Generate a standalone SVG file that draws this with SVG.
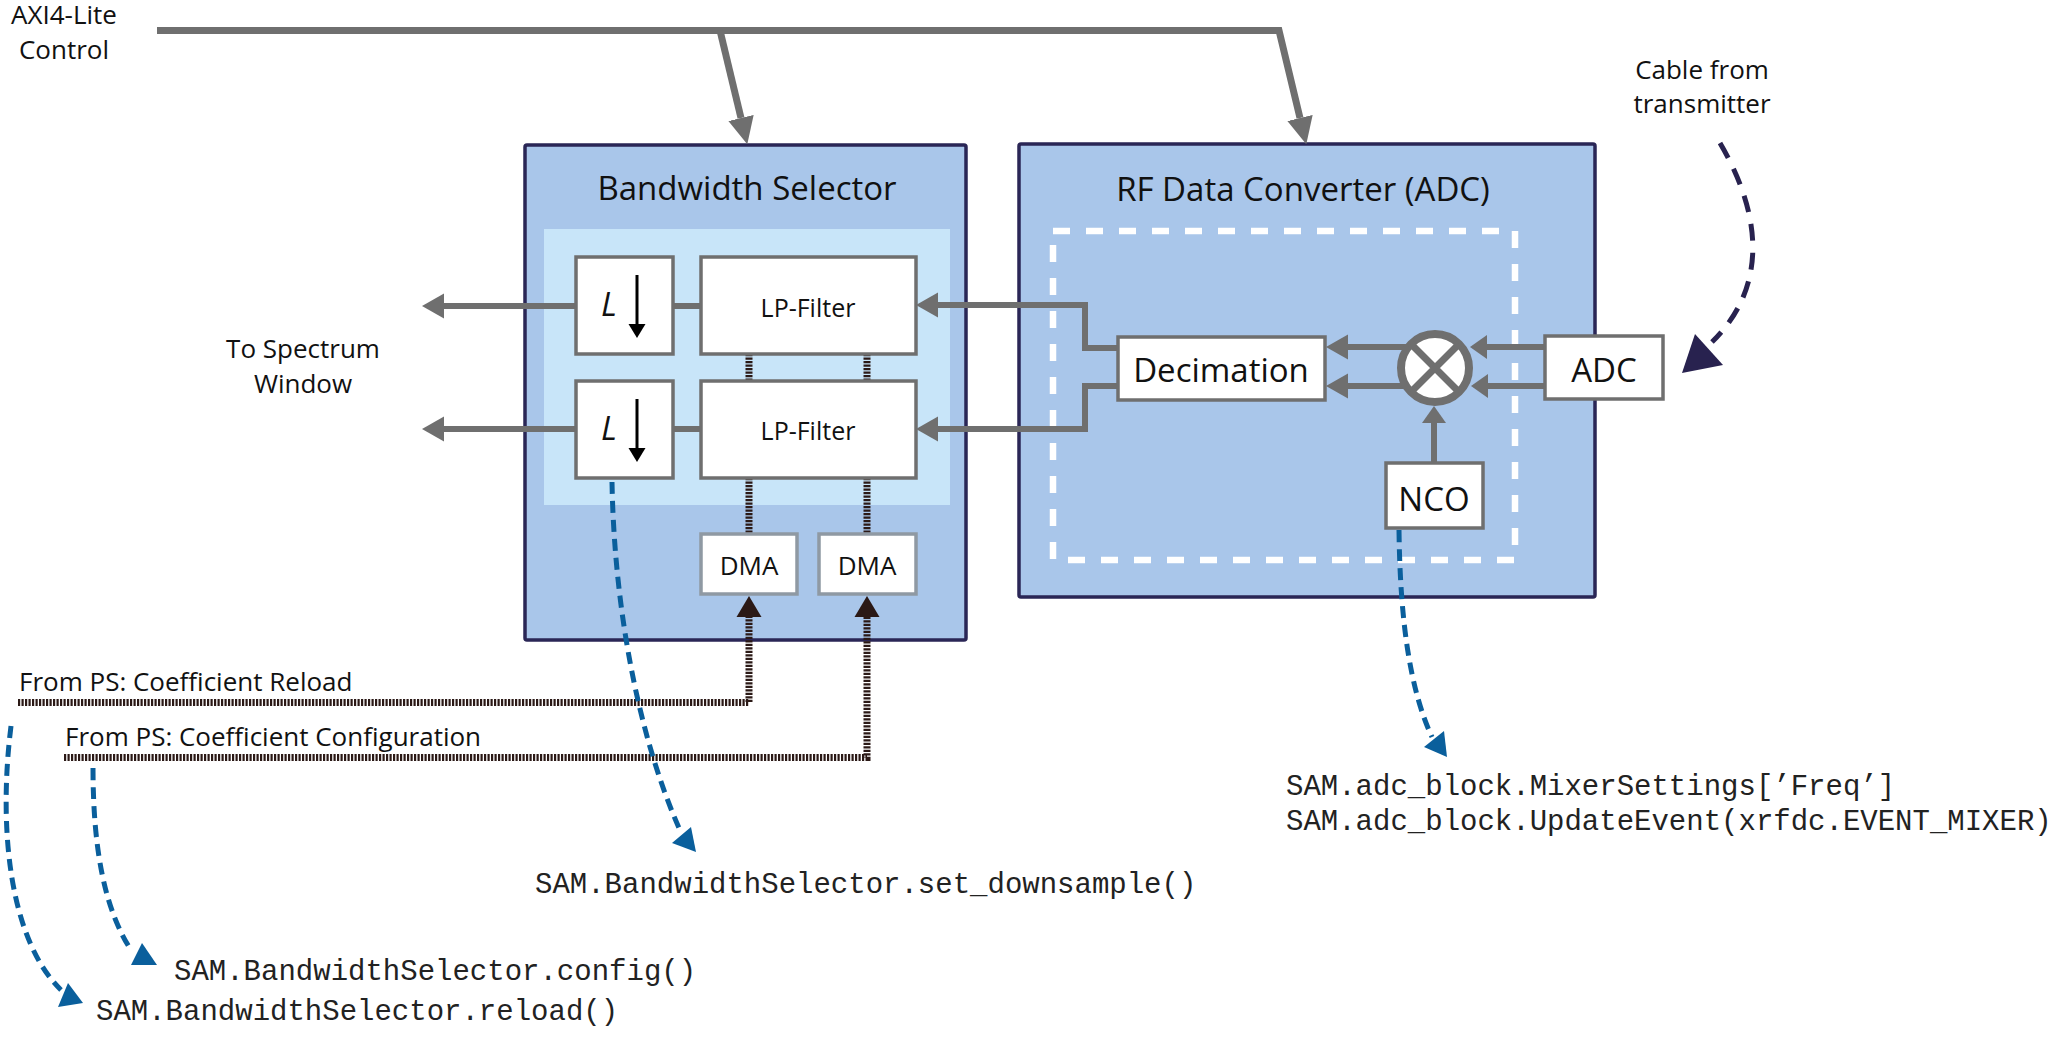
<svg xmlns="http://www.w3.org/2000/svg" width="2054" height="1041" viewBox="0 0 2054 1041">
<style>
  .lbl { font-family: "Open Sans", "Liberation Sans", sans-serif; fill: #111; }
  .mono { font-family: "Liberation Mono", "Courier New", monospace; font-size: 29px; fill: #222; }
  .box { fill: #fff; stroke: #6f6f6f; stroke-width: 3.5; }
  .dma { fill: #fff; stroke: #8f99a3; stroke-width: 3.5; }
  .cont { fill: #a9c6ea; stroke: #2a2656; stroke-width: 3.5; }
  .gray { fill: none; stroke: #6f6f6f; stroke-width: 6; stroke-linejoin: miter; }
  .axi { fill: none; stroke: #6f6f6f; stroke-width: 7; stroke-linejoin: miter; }
  .hatch { fill: none; stroke: #2b1916; stroke-width: 7; stroke-dasharray: 2.2 1.3; }
  .hatchs { fill: none; stroke: #2b1916; stroke-width: 7; stroke-dasharray: 2.2 1.3; }
  .blue { fill: none; stroke: #0a5f9c; stroke-width: 5; stroke-dasharray: 12 7; }
  .bluehead { fill: #0a5f9c; }
  .navy { fill: none; stroke: #28224f; stroke-width: 5; stroke-dasharray: 17 12; }
</style>
<defs>
  <marker id="arrG" markerUnits="userSpaceOnUse" viewBox="0 -13 22 26" markerWidth="22" markerHeight="26" refX="0" refY="0" orient="auto">
    <path d="M0,-12.5 L22,0 L0,12.5 Z" fill="#6f6f6f"/>
  </marker>
  <marker id="arrAXI" markerUnits="userSpaceOnUse" viewBox="0 -13 27 26" markerWidth="27" markerHeight="26" refX="0" refY="0" orient="auto">
    <path d="M0,-13 L27,0 L0,13 Z" fill="#6f6f6f"/>
  </marker>
  <marker id="arrS" markerUnits="userSpaceOnUse" viewBox="0 -12 17 24" markerWidth="17" markerHeight="24" refX="0" refY="0" orient="auto">
    <path d="M0,-12 L17,0 L0,12 Z" fill="#6f6f6f"/>
  </marker>
  <marker id="arrD" markerUnits="userSpaceOnUse" viewBox="0 -13 21 26" markerWidth="21" markerHeight="26" refX="0" refY="0" orient="auto">
    <path d="M0,-12.5 L21,0 L0,12.5 Z" fill="#2b1916"/>
  </marker>
  <marker id="arrK" markerUnits="userSpaceOnUse" viewBox="0 -9 14 18" markerWidth="14" markerHeight="18" refX="0" refY="0" orient="auto">
    <path d="M0,-8.5 L14,0 L0,8.5 Z" fill="#000"/>
  </marker>
</defs>

<rect width="2054" height="1041" fill="#fff"/>

<!-- Containers -->
<g id="bandwidth-selector">
  <rect class="cont" x="525" y="145" width="441" height="495" rx="2"/>
  <rect x="544" y="229" width="406" height="276" fill="#c8e5f9"/>
  <text class="lbl" x="747" y="200" font-size="33" text-anchor="middle">Bandwidth Selector</text>
</g>
<g id="rf-data-converter">
  <rect class="cont" x="1019" y="144" width="576" height="453" rx="2"/>
  <rect x="1053" y="231" width="462" height="329" fill="none" stroke="#fff" stroke-width="6.5" stroke-dasharray="17 16"/>
  <text class="lbl" x="1303" y="201" font-size="33" text-anchor="middle">RF Data Converter (ADC)</text>
</g>

<!-- Connectors -->
<g id="connectors">
  <!-- AXI4-Lite bus -->
  <path class="axi" d="M157,30.5 H1279 L1300,118" marker-end="url(#arrAXI)"/>
  <path class="axi" d="M720,30.5 L741,118" marker-end="url(#arrAXI)"/>
  <!-- outputs to spectrum window -->
  <path class="gray" d="M576,306 H444" marker-end="url(#arrG)"/>
  <path class="gray" d="M576,429 H444" marker-end="url(#arrG)"/>
  <!-- L to LP -->
  <path class="gray" d="M673,306 H701"/>
  <path class="gray" d="M673,429 H701"/>
  <!-- Decimation to LP filters -->
  <path class="gray" d="M1118,348 H1085 V305 H938" marker-end="url(#arrG)"/>
  <path class="gray" d="M1118,386 H1085 V429 H938" marker-end="url(#arrG)"/>
  <!-- mixer to decimation -->
  <path class="gray" d="M1410,347 H1348" marker-end="url(#arrG)"/>
  <path class="gray" d="M1410,386 H1348" marker-end="url(#arrG)"/>
  <!-- ADC to mixer -->
  <path class="gray" d="M1545,347 H1487" marker-end="url(#arrS)"/>
  <path class="gray" d="M1545,386 H1488" marker-end="url(#arrS)"/>
  <!-- NCO to mixer -->
  <path class="gray" d="M1434,463 V423" marker-end="url(#arrS)"/>
  <!-- LP filter / DMA dotted links -->
  <path class="hatchs" d="M749,354 V382"/>
  <path class="hatchs" d="M867,354 V382"/>
  <path class="hatchs" d="M749,478 V534"/>
  <path class="hatchs" d="M867,478 V534"/>
  <!-- From PS -->
  <path class="hatch" d="M18,702.5 H749 V617" marker-end="url(#arrD)"/>
  <path class="hatch" d="M64,757.5 H867 V617" marker-end="url(#arrD)"/>
  <!-- blue annotations -->
  <path class="blue" d="M612,482 C614,600 636,730 679,828"/>
  <polygon class="bluehead" points="672,843 696,852 691,827"/>
  <path class="blue" d="M1399,530 C1400,620 1410,690 1432,737"/>
  <polygon class="bluehead" points="1424,747 1447,757 1444,731"/>
  <path class="blue" d="M93,768 C93,850 105,910 131,950"/>
  <polygon class="bluehead" points="131,965 157,965 142,943"/>
  <path class="blue" d="M11,726 C-2,830 10,940 61,990"/>
  <polygon class="bluehead" points="58,1007 83,1003 68,983"/>
  <!-- cable from transmitter -->
  <path class="navy" d="M1720,143 C1765,220 1765,290 1712,342"/>
  <polygon points="1682,373 1723,365 1695,334" fill="#28224f"/>
</g>

<!-- Nodes -->
<g id="l-box-1">
  <rect class="box" x="576" y="257" width="97" height="97"/>
  <text class="lbl" x="601" y="316" font-size="33" font-style="italic">L</text>
  <path d="M637,275 V324" stroke="#000" stroke-width="3" fill="none" marker-end="url(#arrK)"/>
</g>
<g id="lp-filter-1">
  <rect class="box" x="701" y="257" width="215" height="97"/>
  <text class="lbl" x="808" y="317" font-size="25" text-anchor="middle">LP-Filter</text>
</g>
<g id="l-box-2">
  <rect class="box" x="576" y="381" width="97" height="97"/>
  <text class="lbl" x="601" y="440" font-size="33" font-style="italic">L</text>
  <path d="M637,399 V448" stroke="#000" stroke-width="3" fill="none" marker-end="url(#arrK)"/>
</g>
<g id="lp-filter-2">
  <rect class="box" x="701" y="381" width="215" height="97"/>
  <text class="lbl" x="808" y="440" font-size="25" text-anchor="middle">LP-Filter</text>
</g>
<g id="dma-1">
  <rect class="dma" x="701" y="534" width="96" height="60"/>
  <text class="lbl" x="749" y="575" font-size="26" text-anchor="middle">DMA</text>
</g>
<g id="dma-2">
  <rect class="dma" x="819" y="534" width="97" height="60"/>
  <text class="lbl" x="867" y="575" font-size="26" text-anchor="middle">DMA</text>
</g>
<g id="decimation">
  <rect class="box" x="1118" y="337" width="207" height="63" stroke-width="4"/>
  <text class="lbl" x="1221" y="382" font-size="33" text-anchor="middle">Decimation</text>
</g>
<g id="mixer">
  <circle cx="1435" cy="368" r="34" fill="#fff" stroke="#6f6f6f" stroke-width="8"/>
  <path d="M1411,344 L1459,392 M1459,344 L1411,392" stroke="#6f6f6f" stroke-width="7" fill="none"/>
</g>
<g id="adc">
  <rect class="box" x="1545" y="336" width="118" height="63" stroke-width="4"/>
  <text class="lbl" x="1604" y="382" font-size="33" text-anchor="middle">ADC</text>
</g>
<g id="nco">
  <rect class="box" x="1386" y="463" width="97" height="65" stroke-width="4"/>
  <text class="lbl" x="1434" y="511" font-size="33" text-anchor="middle">NCO</text>
</g>

<!-- Labels -->
<g id="labels">
  <text class="lbl" x="64" y="24" font-size="26" text-anchor="middle">AXI4-Lite</text>
  <text class="lbl" x="64" y="59" font-size="26" text-anchor="middle">Control</text>
  <text class="lbl" x="303" y="358" font-size="26" text-anchor="middle">To Spectrum</text>
  <text class="lbl" x="303" y="393" font-size="26" text-anchor="middle">Window</text>
  <text class="lbl" x="1702" y="79" font-size="26" text-anchor="middle">Cable from</text>
  <text class="lbl" x="1702" y="113" font-size="26" text-anchor="middle">transmitter</text>
  <text class="lbl" x="19" y="691" font-size="26">From PS: Coefficient Reload</text>
  <text class="lbl" x="65" y="746" font-size="26">From PS: Coefficient Configuration</text>
  <text class="mono" x="535" y="893">SAM.BandwidthSelector.set_downsample()</text>
  <text class="mono" x="174" y="980">SAM.BandwidthSelector.config()</text>
  <text class="mono" x="96" y="1020">SAM.BandwidthSelector.reload()</text>
  <text class="mono" x="1286" y="795">SAM.adc_block.MixerSettings[’Freq’]</text>
  <text class="mono" x="1286" y="830">SAM.adc_block.UpdateEvent(xrfdc.EVENT_MIXER)</text>
</g>
</svg>
